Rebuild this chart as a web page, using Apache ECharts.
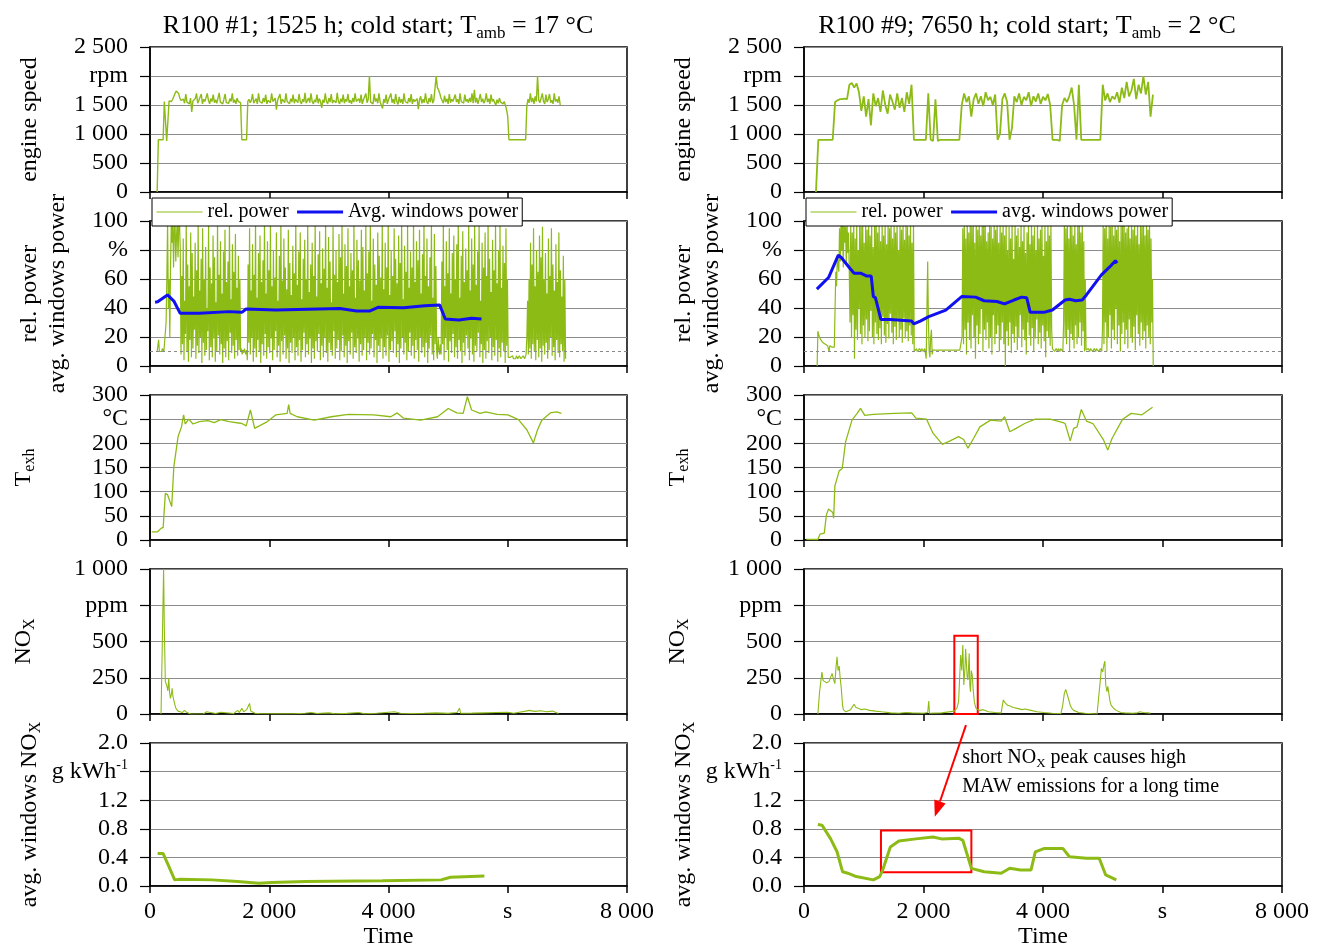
<!DOCTYPE html>
<html><head><meta charset="utf-8">
<script src="https://cdn.jsdelivr.net/npm/echarts@6/dist/echarts.min.js"></script>
<style>html,body{margin:0;padding:0;background:#fff}#c{width:1320px;height:950px}</style>
</head><body><div id="c"></div>
<script>
// ---------------- DATA ----------------
const titlesLeft = ['R100 #1; 1525 h; cold start; T', 'amb', ' = 17 °C'];
const titlesRight = ['R100 #9; 7650 h; cold start; T', 'amb', ' = 2 °C'];
const xTicks = [0, 2000, 4000, 6000, 8000];
const xUnitLabel = 's';
const unitLabels = ['rpm', '%', '°C', 'ppm', 'g kWh-1'];
const legendLeft = ['rel. power', 'Avg. windows power'];
const legendRight = ['rel. power', 'avg. windows power'];
const powerThreshold = 10;

// engine speed, left (uniform time steps)
const speedL_t0 = 120, speedL_dt = 20;
const speedL = [0,900,900,900,900,900,
 1560,1550,880,900,1570,1580,1560,1600,1620,1700,1740,1760,1700,1620,1580,
 1560,1600,1530,1690,1550,1580,1520,1620,1380,1570,
 1540,1610,1700,1530,1580,1550,1690,1520,1600,1560,
 1540,1700,1580,1520,1610,1560,1680,1540,1590,1530,
 1620,1710,1550,1580,1520,1600,1690,1540,1570,1530,
 1610,1560,1700,1540,1590,1520,1620,1560,1580,
 1540,900,900,900,900,900,1560,
 1600,1540,1580,1690,1530,1570,1610,1520,1700,1560,1590,1530,1620,1550,1680,1520,1580,1600,1540,1700,
 1560,1530,1620,1420,1580,1550,1690,1520,1600,1570,1540,1700,1560,1590,1520,1610,1550,1680,1530,1600,
 1570,1540,1690,1560,1520,1600,1550,1710,1530,1580,1620,1540,1700,1560,1520,1590,1550,1680,1530,1610,
 1560,1450,1590,1540,1700,1560,1520,1620,1550,1690,1530,1580,1600,1540,1710,1560,1520,1610,1550,1680,
 1530,1600,1560,1690,1540,1580,1520,1620,1550,1700,1560,1530,1610,1540,1680,1520,1590,1560,1700,1540,
 1600,2000,1550,1580,1520,1690,1560,1610,1530,1700,1550,1580,1440,1600,1540,1680,1520,1590,1560,1700,
 1540,1600,1520,1690,1560,1510,1640,1540,1600,1520,1700,1560,1580,1530,1620,1550,1690,1520,1600,1560,
 1540,1610,1430,1590,1650,1530,1600,1540,1700,1560,1520,1620,1550,1690,1530,1580,1560,2000,1800,1760,
 1700,1620,1600,1530,1660,1550,1610,1520,1690,1540,1600,1560,1530,1680,1550,1600,1520,1700,1560,1590,
 1530,1680,1560,1600,1540,1620,1550,1700,1530,1760,1540,1620,1520,1600,1690,1550,1610,1530,1580,1700,
 1550,1610,1520,1680,1560,1600,1540,1500,1590,1530,1620,1550,1580,1520,1560,1500,
 1420,1300,
 900,900,900,900,900,900,900,900,900,900,900,900,900,900,900,
 1480,
 1600,1540,1700,1550,1620,1520,1650,1560,2000,1580,1540,1620,1700,1560,1520,1680,1550,1600,1690,1540,1580,1520,1700,1560,1600,1540,1650,1500];

// engine speed, right
const speedR_t0 = 200, speedR_dt = 40;
const speedR = [0,900,900,900,900,900,900,900,
 1550,1580,1600,1600,1610,1600,1850,1880,1800,1870,
 1720,1400,1650,1300,1600,1150,1700,1480,1620,1380,1750,1500,1350,1680,1560,1420,1700,1450,1620,1380,1720,1520,
 1850,900,900,900,900,900,900,
 1700,900,880,1600,880,
 900,900,900,900,900,900,900,900,900,
 1500,
 1700,1550,1650,1300,1600,1700,1520,1650,1480,1720,1580,1640,1500,1680,
 900,1000,1600,1700,1550,900,1100,1650,
 1550,1700,1500,1640,1580,1720,1480,1650,1560,1700,1520,1640,1580,1690,1500,
 900,900,900,880,1500,1620,1550,1650,1800,1500,900,1850,900,
 900,900,900,900,900,900,900,900,
 1850,
 1580,1700,1550,1650,1600,1720,1540,1800,1620,1900,1650,1750,1950,1600,1850,1700,2000,1680,1900,1300,
 1680];

// relative power, left (uniform time steps)
const powerL_t0 = 120, powerL_dt = 12.5;
const powerL = [10,14,18,10,9,11,10,12,11,10,9,11,
 30,60,100,40,60,20,
 70,100,85,100,68,95,100,72,90,100,75,98,100,80,
 8,62,15,88,4,45,22,100,10,70,3,55,18,92,6,78,12,48,25,85,
 5,66,14,100,9,52,20,74,2,95,16,60,7,82,11,40,24,98,4,68,
 13,57,6,90,19,75,3,44,10,100,21,63,8,86,15,50,2,79,12,94,
 6,58,17,72,4,100,23,46,9,84,14,65,5,91,18,54,7,76,11,60,
 10,12,8,11,9,12,10,8,11,
 4,70,16,95,8,52,20,84,3,63,12,100,6,47,18,78,10,90,2,58,
 15,73,7,100,22,50,5,86,13,66,9,97,19,55,4,80,11,61,24,92,
 6,45,14,76,3,100,17,59,8,88,21,68,5,53,12,94,2,71,16,49,
 9,83,20,64,4,100,13,56,7,79,18,92,3,46,11,74,23,87,6,60,
 15,98,8,51,19,70,2,85,12,62,5,100,17,48,10,77,22,93,4,57,
 14,81,6,67,20,100,9,54,3,89,16,72,11,44,7,96,24,63,5,80,
 12,58,18,91,4,75,10,100,21,50,6,84,14,69,2,95,17,55,8,78,
 23,66,5,100,13,47,9,87,19,73,3,59,15,94,7,82,11,52,20,97,
 4,64,16,79,8,100,12,45,22,88,6,70,18,56,2,92,14,76,10,61,
 19,99,5,53,13,85,7,68,21,100,3,49,11,80,17,62,9,95,24,74,
 6,57,15,90,2,71,12,100,20,46,8,83,16,65,4,97,10,54,23,79,
 7,68,14,100,5,58,18,86,11,73,3,94,20,50,9,77,13,100,6,62,
 16,88,2,55,12,75,21,100,8,47,4,91,15,69,10,
 5,20,12,8,15,
 8,72,15,100,4,55,20,86,11,64,3,95,17,50,9,78,22,90,6,60,
 13,84,5,100,18,47,10,76,2,93,16,58,7,81,21,66,12,100,4,52,
 19,88,8,70,3,97,14,56,10,79,23,100,6,45,15,85,2,68,11,92,
 5,62,17,100,9,74,20,51,4,87,13,66,7,98,18,57,3,80,12,100,
 6,54,16,83,10,71,2,95,14,60,
 6,5,7,6,5,6,7,5,6,6,5,7,6,5,6,7,6,5,6,5,7,6,5,6,8,
 20,45,8,60,12,85,5,70,15,95,10,55,4,80,18,65,6,90,12,75,3,96,14,60,8,78,
 16,50,5,88,11,62,20,95,7,70,13,52,4,84,18,58,9,92,6,66,15,48,10,76,3,60,
 5];

// relative power, right (uniform time steps)
const powerR_t0 = 220, powerR_dt = 12.5;
const powerR = [0,24,22,20,19,18,18,17,16,16,16,15,15,15,14,15,10,14,15,14,13,14,14,13,
 40,65,55,75,70,65,
 95,72,100,80,98,68,100,85,96,70,100,78,92,66,
 30,100,20,92,35,100,5,88,25,100,18,80,40,100,22,96,15,100,28,85,
 20,100,32,94,17,100,24,90,38,100,20,82,15,98,30,100,22,92,18,100,
 26,86,15,100,34,90,21,100,16,84,29,100,19,95,36,100,23,88,15,100,
 27,92,18,100,31,80,20,100,25,94,16,100,33,87,19,100,24,96,17,90,
 28,100,21,85,15,98,
 10,11,9,12,10,11,10,12,11,10,12,11,10,11,
 12,11,5,40,72,30,10,6,20,25,8,11,10,12,
 11,10,12,11,10,12,11,12,10,11,12,11,11,10,12,11,10,12,11,12,10,11,12,11,11,10,12,11,10,12,11,12,10,11,12,11,
 20,95,15,100,25,88,8,100,30,92,18,100,12,96,35,100,20,85,5,100,
 28,94,15,100,22,90,40,100,10,98,25,100,18,86,30,92,12,100,20,96,
 8,88,35,100,15,94,22,100,28,85,10,100,18,92,30,100,15,90,0,100,
 24,80,14,96,30,88,9,100,22,74,16,100,27,90,11,95,20,82,35,100,
 13,86,25,100,18,78,8,92,30,100,21,84,14,100,26,90,10,96,19,80,
 32,100,15,88,23,94,12,100,28,76,17,98,6,86,24,100,20,90,14,100,25,12,
 11,12,10,11,12,11,10,12,11,10,12,11,12,10,
 30,100,20,95,15,100,25,88,10,100,22,96,18,90,12,100,28,84,15,98,20,100,30,92,14,100,24,86,10,60,
 11,12,10,12,11,10,12,11,12,10,11,12,11,10,12,11,12,10,11,12,11,10,
 25,100,15,95,30,100,10,88,20,100,35,96,12,100,25,90,18,100,40,94,
 15,100,28,86,10,100,22,98,30,100,15,92,25,95,12,100,32,88,20,100,
 16,94,27,100,11,90,35,100,22,84,14,100,30,96,18,100,24,90,12,100,
 28,94,20,100,15,88,30,60,
 0];

// average windows power [time, %]
const avgPowL = [[85,44],[128,44.3],[293,49],[400,44.8],[506,36.3],[828,36.3],[1327,37.5],[1541,37],[1613,39.3],[2112,38.6],[2469,39],[3183,39.7],[3468,37.9],[3681,37.9],[3825,40.5],[4253,40.2],[4610,41.6],[4860,42],[4952,32.4],[5180,31.7],[5394,33],[5560,32.4]];
const avgPowR = [[215,53],[411,61],[574,76.5],[620,75],[767,67.4],[838,64],[946,64],[1053,62],[1125,62],[1160,48],[1196,47],[1288,32],[1445,32],[1802,31],[1838,29],[1945,31],[2088,34],[2373,38.6],[2644,48],[2873,47.5],[3015,45],[3229,44.5],[3357,42.8],[3515,45.5],[3643,47.5],[3728,47],[3786,37],[4014,37],[4157,38.6],[4370,45.5],[4442,46],[4549,45],[4656,45.5],[4727,49],[4978,62.8],[5120,68.5],[5212,72.6],[5240,71]];

// exhaust temperature [time, °C]
const texhL = [[29,17],[128,17],[185,24],[221,26],[257,96.5],[293,94],[364,69],[400,152],[471,214],[528,234],[564,259],[590,240],[650,250],[721,240],[828,245],[970,247],[1078,243],[1184,249],[1327,245],[1541,241],[1613,236],[1684,269],[1755,231],[1969,245],[2112,259],[2300,262],[2326,280],[2350,262],[2469,255],[2755,248],[3040,255],[3326,260],[3753,259],[4038,255],[4146,263],[4253,252],[4538,248],[4823,255],[5002,272],[5145,263],[5252,262],[5323,296.5],[5394,269],[5537,262],[5630,265],[5823,260],[6002,259],[6180,249],[6322,227.6],[6430,201],[6500,228],[6572,248],[6714,263],[6821,265],[6900,262]];
const texhR = [[40,1.4],[232,1],[268,12],[339,14],[375,52],[411,64],[482,57],[496,45],[517,112],[589,143],[640,148],[696,203],[803,248],[889,262],[946,272.5],[1017,258],[1160,260],[1516,262],[1802,263],[1873,252],[2051,250],[2159,221],[2316,198],[2444,205],[2587,214],[2672,208],[2744,190],[2837,210],[2944,234],[3122,248],[3300,246],[3357,255],[3444,224],[3550,231],[3693,241],[3871,250],[4121,250],[4335,243],[4370,241],[4456,205],[4513,231],[4570,234],[4641,270],[4727,246],[4835,241],[5013,207],[5084,186],[5155,210],[5333,250],[5476,262],[5655,259],[5834,274.5]];

// NOx [time, ppm]
const noxL = [[185,0],[207,500],[228,1000],[240,600],[257,223],[278,200],[300,160],[314,248],[328,150],[343,108],[360,140],[371,177],[385,120],[400,108],[420,60],[435,39],[470,20],[506,16],[540,10],[578,25],[620,10],[685,0],[900,2],[950,15],[970,2],[1100,3],[1189,12],[1210,2],[1400,3],[1470,25],[1500,10],[1540,40],[1570,15],[1620,30],[1670,73],[1690,20],[1720,25],[1760,5],[1830,3],[2000,2],[2400,2],[2600,5],[2700,10],[2800,3],[3000,8],[3100,2],[3300,4],[3500,10],[3600,2],[3800,5],[4000,12],[4100,15],[4200,5],[4400,3],[4600,5],[4800,8],[5000,4],[5150,10],[5190,40],[5210,5],[5400,6],[5600,8],[5800,10],[6000,12],[6100,5],[6300,20],[6360,25],[6450,18],[6550,22],[6650,15],[6750,20],[6820,8],[6850,3]];
const noxR = [[232,0],[260,150],[300,290],[320,230],[340,220],[380,215],[420,225],[446,216],[470,280],[482,260],[500,230],[517,210],[535,320],[553,395],[570,300],[589,330],[605,250],[624,177],[645,60],[660,28],[700,15],[732,10],[780,30],[838,67],[870,45],[910,40],[960,30],[1017,34],[1100,25],[1200,20],[1302,15],[1450,8],[1588,5],[1700,10],[1802,8],[2000,5],[2070,10],[2088,90],[2100,5],[2300,8],[2516,20],[2560,40],[2587,85],[2605,250],[2622,407],[2640,300],[2658,476],[2675,200],[2694,318],[2705,450],[2715,453],[2730,260],[2744,234],[2765,418],[2775,200],[2787,154],[2800,300],[2815,269],[2835,150],[2851,85],[2870,50],[2887,34],[2944,25],[3000,30],[3087,15],[3200,10],[3300,8],[3320,60],[3336,97],[3360,80],[3408,60],[3450,55],[3500,45],[3586,37],[3650,30],[3700,35],[3800,25],[3900,15],[4014,10],[4150,5],[4300,3],[4330,60],[4357,142],[4380,170],[4407,177],[4430,100],[4456,60],[4480,40],[4513,25],[4600,10],[4700,5],[4905,0],[4940,150],[4978,315],[5000,290],[5020,340],[5035,365],[5050,200],[5070,154],[5085,190],[5099,200],[5120,90],[5141,60],[5180,40],[5227,25],[5300,10],[5370,8],[5500,5],[5580,8],[5620,15],[5680,10],[5763,8],[5800,5]];

// average windows NOx [time, g/kWh]
const avgNoxL = [[128,0.455],[221,0.455],[314,0.28],[414,0.087],[506,0.095],[1042,0.087],[1470,0.064],[1827,0.04],[2040,0.05],[2612,0.064],[3897,0.075],[4882,0.087],[5038,0.124],[5608,0.142]];
const avgNoxR = [[232,0.86],[303,0.85],[446,0.66],[553,0.48],[646,0.2],[732,0.18],[875,0.133],[1160,0.087],[1267,0.133],[1317,0.225],[1445,0.547],[1588,0.63],[1873,0.66],[2159,0.686],[2302,0.66],[2587,0.67],[2658,0.64],[2801,0.248],[3015,0.2],[3300,0.18],[3444,0.25],[3622,0.225],[3800,0.225],[3871,0.478],[4014,0.524],[4335,0.524],[4442,0.41],[4727,0.39],[4941,0.39],[5049,0.156],[5227,0.087]];

// annotations (data coordinates)
const boxNox = [[2516, 0], [2908, 540]];
const boxAvgNox = [[1288, 0.193], [2801, 0.777]];
const arrowFrom = [2711, 2.25], arrowTo = [2189, 0.97];
const noteLines = [['short NO', 'X', ' peak causes high'], ['MAW emissions for a long time']];
const noteAnchors = [[2650, 1.8], [2650, 1.39]];

// ---------------- CHART ----------------
const F = 'Liberation Serif';
const GREEN = '#8DBB16', BLUE = '#1010F0', GRIDC = '#8c8c8c';
const tops = [47, 221, 395, 569, 743], PH = 145;
const colLeft = [150, 804], colWidth = [477, 478];
const FS = 24;

function seq(t0, dt, vals) { return vals.map((v, i) => [t0 + i * dt, v]); }
function th(v) { const s = String(Math.round(v)); return s.length > 3 ? s.slice(0, s.length - 3) + ' ' + s.slice(-3) : s; }

const axisDefs = [
  {min: 0, max: 2500, interval: 500, unit: 2000, dec: false, name: '{n|engine speed}', gap: 106},
  {min: 0, max: 100, interval: 20, unit: 80, dec: false, name: '{n|rel. power}\n{n|avg. windows power}', gap: 78},
  {min: 0, max: 300, interval: 50, unit: 250, dec: false, name: '{n|T}{s|exh}', gap: 112},
  {min: 0, max: 1000, interval: 250, unit: 750, dec: false, name: '{n|NO}{s|X}', gap: 112},
  {min: 0, max: 2, interval: 0.4, unit: 1.6, dec: true, name: '{n|avg. windows NO}{s|X}', gap: 106}
];
function unitText(p) {
  if (p === 4) return '{a|g kWh}{sup|-1}';
  return unitLabels[p];
}

const richName = {
  n: {fontFamily: F, fontSize: FS, lineHeight: 28, color: '#000'},
  s: {fontFamily: F, fontSize: 16, lineHeight: 16, verticalAlign: 'bottom', color: '#000'}
};

const grids = [], xAxes = [], yAxes = [];
for (let c = 0; c < 2; c++) {
  for (let p = 0; p < 5; p++) {
    const gi = c * 5 + p;
    grids.push({left: colLeft[c], top: tops[p], width: colWidth[c], height: PH, show: true, borderColor: '#000', borderWidth: 1.5, backgroundColor: 'transparent', containLabel: false});
    const bottom = p === 4;
    xAxes.push({
      type: 'value', gridIndex: gi, min: xTicks[0], max: xTicks[xTicks.length - 1], interval: xTicks[1] - xTicks[0],
      axisLine: {show: true, lineStyle: {color: '#000', width: 1.5}},
      axisTick: {show: true, inside: false, length: 7, lineStyle: {color: '#000', width: 1.5}},
      splitLine: {show: false},
      axisLabel: {show: bottom, color: '#000', fontFamily: F, fontSize: FS, margin: 14,
        formatter: v => v === 6000 ? xUnitLabel : th(v)},
      name: bottom ? 'Time' : '', nameLocation: 'middle', nameGap: 37,
      nameTextStyle: {color: '#000', fontFamily: F, fontSize: FS}
    });
    const d = axisDefs[p];
    yAxes.push({
      type: 'value', gridIndex: gi, min: d.min, max: d.max, interval: d.interval,
      axisLine: {show: true, lineStyle: {color: '#000', width: 1.5}},
      axisTick: {show: true, inside: false, length: 10, lineStyle: {color: '#000', width: 1.2}},
      splitLine: {show: true, lineStyle: {color: GRIDC, width: 1}},
      axisLabel: {color: '#000', fontFamily: F, fontSize: FS, margin: 22,
        formatter: v => Math.abs(v - d.unit) < 1e-9 ? unitText(p) : (d.dec ? v.toFixed(1) : th(v)),
        rich: {a: {fontFamily: F, fontSize: FS, lineHeight: 26, color: '#000'}, sup: {fontFamily: F, fontSize: 14, lineHeight: 14, verticalAlign: 'top', color: '#000'}}},
      name: d.name, nameLocation: 'middle', nameRotate: 90, nameGap: d.gap,
      nameTextStyle: {rich: richName, fontFamily: F, fontSize: FS, color: '#000'}
    });
  }
}

function lineS(name, gi, data, color, width, extra) {
  return Object.assign({name: name, type: 'line', xAxisIndex: gi, yAxisIndex: gi, data: data, showSymbol: false, symbol: 'none',
    lineStyle: {color: color, width: width}, itemStyle: {color: color}, animation: false, silent: true}, extra || {});
}
const threshLine = {markLine: {silent: true, symbol: 'none', label: {show: false}, lineStyle: {color: '#888', type: [3, 3], width: 1}, data: [{yAxis: powerThreshold}]}};
const redBox = box => ({markArea: {silent: true, itemStyle: {color: 'rgba(0,0,0,0)', borderColor: '#FF0000', borderWidth: 2}, data: [[{coord: box[0]}, {coord: box[1]}]]}});

const series = [
  lineS('speedL', 0, seq(speedL_t0, speedL_dt, speedL), GREEN, 1.4),
  lineS(legendLeft[0], 1, seq(powerL_t0, powerL_dt, powerL), GREEN, 1.2, threshLine),
  lineS(legendLeft[1], 1, avgPowL, BLUE, 3),
  lineS('texhL', 2, texhL, GREEN, 1.3),
  lineS('noxL', 3, noxL, GREEN, 1.1),
  lineS('avgNoxL', 4, avgNoxL, GREEN, 3),
  lineS('speedR', 5, seq(speedR_t0, speedR_dt, speedR), GREEN, 1.8),
  lineS(legendRight[0], 6, seq(powerR_t0, powerR_dt, powerR), GREEN, 1.2, threshLine),
  lineS(legendRight[1], 6, avgPowR, BLUE, 3),
  lineS('texhR', 7, texhR, GREEN, 1.3),
  lineS('noxR', 8, noxR, GREEN, 1.1, redBox(boxNox)),
  lineS('avgNoxR', 9, avgNoxR, GREEN, 3, redBox(boxAvgNox))
];

const legendBase = {orient: 'horizontal', top: 198, itemWidth: 46, itemHeight: 14, itemGap: 7, padding: [4, 4, 4, 4],
  backgroundColor: '#fff', borderColor: '#000', borderWidth: 1, selectedMode: false,
  itemStyle: {opacity: 0},
  textStyle: {fontFamily: F, fontSize: 20, color: '#000'}};
function legendData(names) {
  return [{name: names[0], lineStyle: {width: 1}}, {name: names[1], lineStyle: {width: 3}}];
}

const titleRich = {
  t: {fontFamily: F, fontSize: 26, lineHeight: 32, color: '#000'},
  s: {fontFamily: F, fontSize: 17, lineHeight: 17, verticalAlign: 'bottom', color: '#000'}
};
function titleText(parts) { return '{t|' + parts[0] + '}{s|' + parts[1] + '}{t|' + parts[2] + '}'; }

const option = {
  backgroundColor: '#fff',
  animation: false,
  grid: grids, xAxis: xAxes, yAxis: yAxes, series: series,
  legend: [
    Object.assign({}, legendBase, {left: 152, data: legendData(legendLeft)}),
    Object.assign({}, legendBase, {left: 806, data: legendData(legendRight)})
  ],
  graphic: [
    {type: 'text', x: 378, y: 26, style: {text: titleText(titlesLeft), rich: titleRich, align: 'center', verticalAlign: 'middle'}},
    {type: 'text', x: 1027, y: 26, style: {text: titleText(titlesRight), rich: titleRich, align: 'center', verticalAlign: 'middle'}}
  ]
};

const chart = echarts.init(document.getElementById('c'), null, {renderer: 'canvas'});
chart.setOption(option);

// annotation arrow + note, positioned from data coordinates
const ref = {xAxisIndex: 9, yAxisIndex: 9};
const p0 = chart.convertToPixel(ref, arrowFrom);
const p1 = chart.convertToPixel(ref, arrowTo);
const dx = p1[0] - p0[0], dy = p1[1] - p0[1], L = Math.sqrt(dx * dx + dy * dy);
const ux = dx / L, uy = dy / L, HL = 16, HW = 6;
const bx = p1[0] - ux * HL, by = p1[1] - uy * HL;
const noteRich = {
  t: {fontFamily: F, fontSize: 20, lineHeight: 26, color: '#000'},
  s: {fontFamily: F, fontSize: 13, lineHeight: 13, verticalAlign: 'bottom', color: '#000'}
};
const extra = [
  {type: 'line', shape: {x1: p0[0], y1: p0[1], x2: bx, y2: by}, style: {stroke: '#FF0000', lineWidth: 2}, z: 50},
  {type: 'polygon', shape: {points: [[p1[0], p1[1]], [bx - uy * HW, by + ux * HW], [bx + uy * HW, by - ux * HW]]}, style: {fill: '#FF0000'}, z: 50}
];
noteLines.forEach((ln, i) => {
  const pt = chart.convertToPixel(ref, noteAnchors[i]);
  const txt = ln.length === 3 ? '{t|' + ln[0] + '}{s|' + ln[1] + '}{t|' + ln[2] + '}' : '{t|' + ln[0] + '}';
  extra.push({type: 'text', x: pt[0], y: pt[1], z: 50, style: {text: txt, rich: noteRich, align: 'left', verticalAlign: 'middle'}});
});
chart.setOption({graphic: option.graphic.concat(extra)});
</script></body></html>
